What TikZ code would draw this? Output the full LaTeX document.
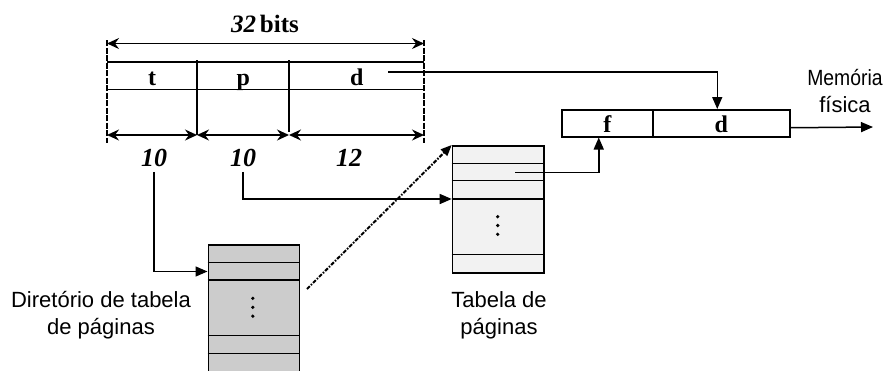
\documentclass[tikz,border=0pt]{standalone}
\usepackage{fontspec}
\usepackage{graphicx}
\setmainfont{Liberation Serif}
\newfontfamily\labelsans{Liberation Sans}
\usetikzlibrary{arrows.meta}

\tikzset{
  fieldtext/.style={font=\fontsize{24}{24}\selectfont\bfseries, inner sep=0pt,
    text height=19pt, text depth=0pt, minimum height=27pt, anchor=north west},
  membox/.style={fieldtext, draw, line width=1.5pt},
  tablebox/.style={draw, line width=1.5pt, anchor=north west, inner sep=0pt},
  numlabel/.style={font=\fontsize{26}{26}\selectfont\bfseries\itshape, inner sep=5pt, anchor=base},
  captiontext/.style={font=\labelsans\fontsize{22}{27}\selectfont, align=center, inner sep=0pt},
  conn/.style={line width=1.5pt, -{Triangle[length=12pt,width=10pt]}},
  dimarrow/.style={line width=1.5pt,
    {Stealth[length=12pt,width=11pt,inset=4pt]}-{Stealth[length=12pt,width=11pt,inset=4pt]}},
  guide/.style={line width=1.6pt, dash pattern=on 6pt off 1.5pt},
  plainline/.style={line width=1.5pt},
}

\begin{document}
\begin{tikzpicture}[x=1pt,y=-1pt]
  \fill[white] (0,0) rectangle (889,370);
  \useasboundingbox (0,0) rectangle (889,370);
  \clip (0,0) rectangle (889,370);

  % ---- virtual address: fields t | p | d
  \node[fieldtext, minimum width=90pt]  (ft) at (107,62) {t};
  \node[fieldtext, minimum width=92pt]  (fp) at (197,62) {p};
  \node[fieldtext, minimum width=135pt] (fd) at (289,62) {d};
  \draw[plainline] (ft.north west) -- (fd.north east);
  \draw[plainline] (ft.south west) -- (fd.south east);

  % guide lines of the address word
  \coordinate (gl0) at (107,40);  \coordinate (gl1) at (107,143);
  \coordinate (gr0) at (424,40);  \coordinate (gr1) at (424,143);
  \coordinate (g10) at (197,60);  \coordinate (g11) at (197,135);
  \coordinate (g20) at (289,60);  \coordinate (g21) at (289,132);
  \draw[guide] (gl0) -- (gl1);
  \draw[guide] (gr0) -- (gr1);
  \draw[plainline, line width=1.8pt] (g10) -- (g11);
  \draw[plainline] (g20) -- (g21);

  % width dimensions
  \coordinate (topL) at (107,43.5);  \coordinate (topR) at (424,43.5);
  \coordinate (botL) at (107,135);   \coordinate (botA) at (197,135);
  \coordinate (botB) at (289,135);   \coordinate (botR) at (424,135);
  \draw[dimarrow] (topL) -- (topR);
  \draw[dimarrow] (botL) -- (botA);
  \draw[dimarrow] (botA) -- (botB);
  \draw[dimarrow] (botB) -- (botR);

  \node[font=\fontsize{25}{25}\selectfont\bfseries, anchor=base] (wordsize) at (265,32)
    {\textit{32}\hspace{0.15em}bits};
  \node[numlabel] (n1) at (154,166.5) {10};
  \node[numlabel] (n2) at (243,166.5) {10};
  \node[numlabel] (n3) at (349,166.5) {12};

  % ---- physical address: f | d
  \node[membox, minimum width=91pt]  (mf) at (561,109) {f};
  \node[membox, minimum width=137pt] (md) at (652,109) {d};
  \node[captiontext] (memlabel) at (845,91.5) {\scalebox{0.88}[1]{Memória}\\física};

  % ---- page-table directory
  \node[tablebox, fill=gray!40, minimum width=91pt, minimum height=140pt] (dir) at (207.5,244.3) {};
  \foreach \dy in {18, 35.7, 91.4, 109}
    \draw[plainline] ([yshift=-\dy pt]dir.north west) -- ([yshift=-\dy pt]dir.north east);
  \foreach \y in {298.3, 307.3, 316.2}
    \fill (252.8,\y) circle (1.8pt);
  \node[captiontext] (dirlabel) at (101,315) {Diretório de tabela\\de páginas};

  % ---- page table
  \node[tablebox, fill=black!5, minimum width=91.6pt, minimum height=127.3pt] (pt) at (451.7,145) {};
  \foreach \dy in {18.3, 35.7, 54, 109.3}
    \draw[plainline] ([yshift=-\dy pt]pt.north west) -- ([yshift=-\dy pt]pt.north east);
  \foreach \y in {216.7, 225.5, 234.3}
    \fill (497.7,\y) circle (1.8pt);
  \node[captiontext] (ptlabel) at (499,315.5) {Tabela de\\páginas};

  % ---- connectors
  \coordinate (dirin)  at (207.5,271.5);
  \coordinate (ptin)   at (451.7,199);
  \coordinate (dirout) at (307,289);
  \coordinate (ptsrc)  at (515,172.7);
  \coordinate (dsrc)   at (388,72);
  \coordinate (memout) at (873,127);

  \draw[conn] (n1.south) |- (dirin);
  \draw[conn] (n2.south) |- (ptin);
  \draw[line width=2pt, dash pattern=on 4pt off 1.5pt on 1.5pt off 1.5pt,
        -{Triangle[length=11pt,width=9pt]}] (dirout) -- (pt.north west);
  \draw[conn] (ptsrc) -| ([xshift=-8.5pt]mf.south);
  \draw[conn] (dsrc) -| ([xshift=-4pt]md.north);
  \draw[conn] ([yshift=-4.5pt]md.east) -- (memout);
\end{tikzpicture}
\end{document}
